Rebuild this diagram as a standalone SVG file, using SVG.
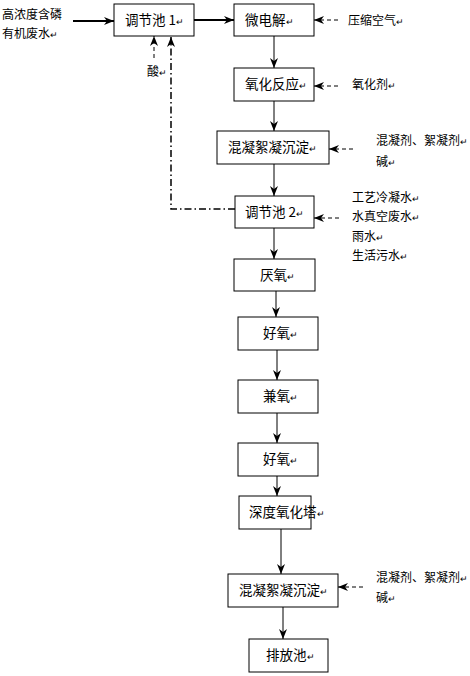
<svg xmlns="http://www.w3.org/2000/svg" width="470" height="676" viewBox="0 0 470 676">
<style>
.box{fill:#fff;stroke:#000;stroke-width:1}
.t{font-family:"Noto Sans CJK SC","Liberation Sans",sans-serif;font-size:13.5px;fill:#000}
.l{font-family:"Noto Sans CJK SC","Liberation Sans",sans-serif;font-size:12px;fill:#000}
.rm{font-size:9px}
.solid{stroke:#000;stroke-width:1;fill:none}
.thick{stroke:#000;stroke-width:2;fill:none}
.dash{stroke:#000;stroke-width:1;fill:none;stroke-dasharray:4,3}
.dashdot{stroke:#000;stroke-width:1.5;fill:none;stroke-dasharray:7,3,1.5,3}
</style>
<defs>
<marker id="ah" markerUnits="userSpaceOnUse" markerWidth="10" markerHeight="8" refX="10" refY="4" orient="auto">
<path d="M0,0 L10,4 L0,8 L3,4 z" fill="#000"/>
</marker>
</defs>
<rect width="470" height="676" fill="#fff"/>
<g id="connectors">
<line class="thick" x1="73" y1="21" x2="114" y2="21" marker-end="url(#ah)"/>
<line class="thick" x1="194" y1="20" x2="234" y2="20" marker-end="url(#ah)"/>
<line class="dash" x1="338" y1="20" x2="314" y2="20" marker-end="url(#ah)"/>
<line class="dash" x1="338" y1="86" x2="314" y2="86" marker-end="url(#ah)"/>
<line class="dash" x1="353" y1="149" x2="329" y2="149" marker-end="url(#ah)"/>
<line class="dash" x1="339" y1="218" x2="314" y2="218" marker-end="url(#ah)"/>
<line class="dash" x1="363" y1="587" x2="338" y2="587" marker-end="url(#ah)"/>
<line class="dash" x1="154" y1="58" x2="154" y2="36" marker-end="url(#ah)"/>
<polyline class="dashdot" points="235,209 171,209 171,37" marker-end="url(#ah)"/>
<line class="solid" x1="274" y1="36" x2="274" y2="68" marker-end="url(#ah)"/>
<line class="solid" x1="274" y1="101" x2="274" y2="131" marker-end="url(#ah)"/>
<line class="solid" x1="274" y1="164" x2="274" y2="196" marker-end="url(#ah)"/>
<line class="solid" x1="274" y1="228" x2="274" y2="259" marker-end="url(#ah)"/>
<line class="solid" x1="276" y1="291" x2="276" y2="317" marker-end="url(#ah)"/>
<line class="solid" x1="277" y1="350" x2="277" y2="380" marker-end="url(#ah)"/>
<line class="solid" x1="277" y1="413" x2="277" y2="443" marker-end="url(#ah)"/>
<line class="solid" x1="277" y1="476" x2="277" y2="496" marker-end="url(#ah)"/>
<line class="solid" x1="281" y1="529" x2="281" y2="574" marker-end="url(#ah)"/>
<line class="solid" x1="283" y1="607" x2="283" y2="639" marker-end="url(#ah)"/>
</g>
<g id="input">
<text class="l" x="2" y="19">高浓度含磷</text>
<text class="l" x="2" y="38">有机废水<tspan class="rm">↵</tspan></text>
</g>
<g id="n1"><rect class="box" x="114" y="4" width="80" height="32"/><text class="t" x="125" y="25">调节池 1<tspan class="rm">↵</tspan></text></g>
<g id="n2"><rect class="box" x="234" y="4" width="80" height="32"/><text class="t" x="245" y="25">微电解<tspan class="rm">↵</tspan></text></g>
<g id="n3"><rect class="box" x="234" y="68" width="80" height="33"/><text class="t" x="245" y="89">氧化反应<tspan class="rm">↵</tspan></text></g>
<g id="n4"><rect class="box" x="217" y="131" width="112" height="33"/><text class="t" x="228" y="152">混凝絮凝沉淀<tspan class="rm">↵</tspan></text></g>
<g id="n5"><rect class="box" x="235" y="196" width="79" height="32"/><text class="t" x="245" y="217">调节池 2<tspan class="rm">↵</tspan></text></g>
<g id="n6"><rect class="box" x="234" y="259" width="81" height="32"/><text class="t" x="260" y="280">厌氧<tspan class="rm">↵</tspan></text></g>
<g id="n7"><rect class="box" x="238" y="317" width="80" height="33"/><text class="t" x="263" y="338">好氧<tspan class="rm">↵</tspan></text></g>
<g id="n8"><rect class="box" x="238" y="380" width="80" height="33"/><text class="t" x="263" y="401">兼氧<tspan class="rm">↵</tspan></text></g>
<g id="n9"><rect class="box" x="238" y="443" width="80" height="33"/><text class="t" x="263" y="464">好氧<tspan class="rm">↵</tspan></text></g>
<g id="n10"><rect class="box" x="239" y="496" width="72" height="33"/><text class="t" x="249" y="517">深度氧化塔<tspan class="rm">↵</tspan></text></g>
<g id="n11"><rect class="box" x="228" y="574" width="110" height="33"/><text class="t" x="239" y="595">混凝絮凝沉淀<tspan class="rm">↵</tspan></text></g>
<g id="n12"><rect class="box" x="249" y="639" width="79" height="33"/><text class="t" x="266" y="660">排放池<tspan class="rm">↵</tspan></text></g>
<g id="labels">
<text class="l" x="147" y="76">酸<tspan class="rm">↵</tspan></text>
<text class="l" x="348" y="25">压缩空气<tspan class="rm">↵</tspan></text>
<text class="l" x="352" y="89">氧化剂<tspan class="rm">↵</tspan></text>
<text class="l" x="376" y="145">混凝剂、絮凝剂<tspan class="rm">↵</tspan></text>
<text class="l" x="376" y="166">碱<tspan class="rm">↵</tspan></text>
<text class="l" x="352" y="202">工艺冷凝水<tspan class="rm">↵</tspan></text>
<text class="l" x="352" y="221">水真空废水<tspan class="rm">↵</tspan></text>
<text class="l" x="352" y="241">雨水<tspan class="rm">↵</tspan></text>
<text class="l" x="352" y="260">生活污水<tspan class="rm">↵</tspan></text>
<text class="l" x="376" y="582">混凝剂、絮凝剂<tspan class="rm">↵</tspan></text>
<text class="l" x="376" y="602">碱<tspan class="rm">↵</tspan></text>
</g>
</svg>
